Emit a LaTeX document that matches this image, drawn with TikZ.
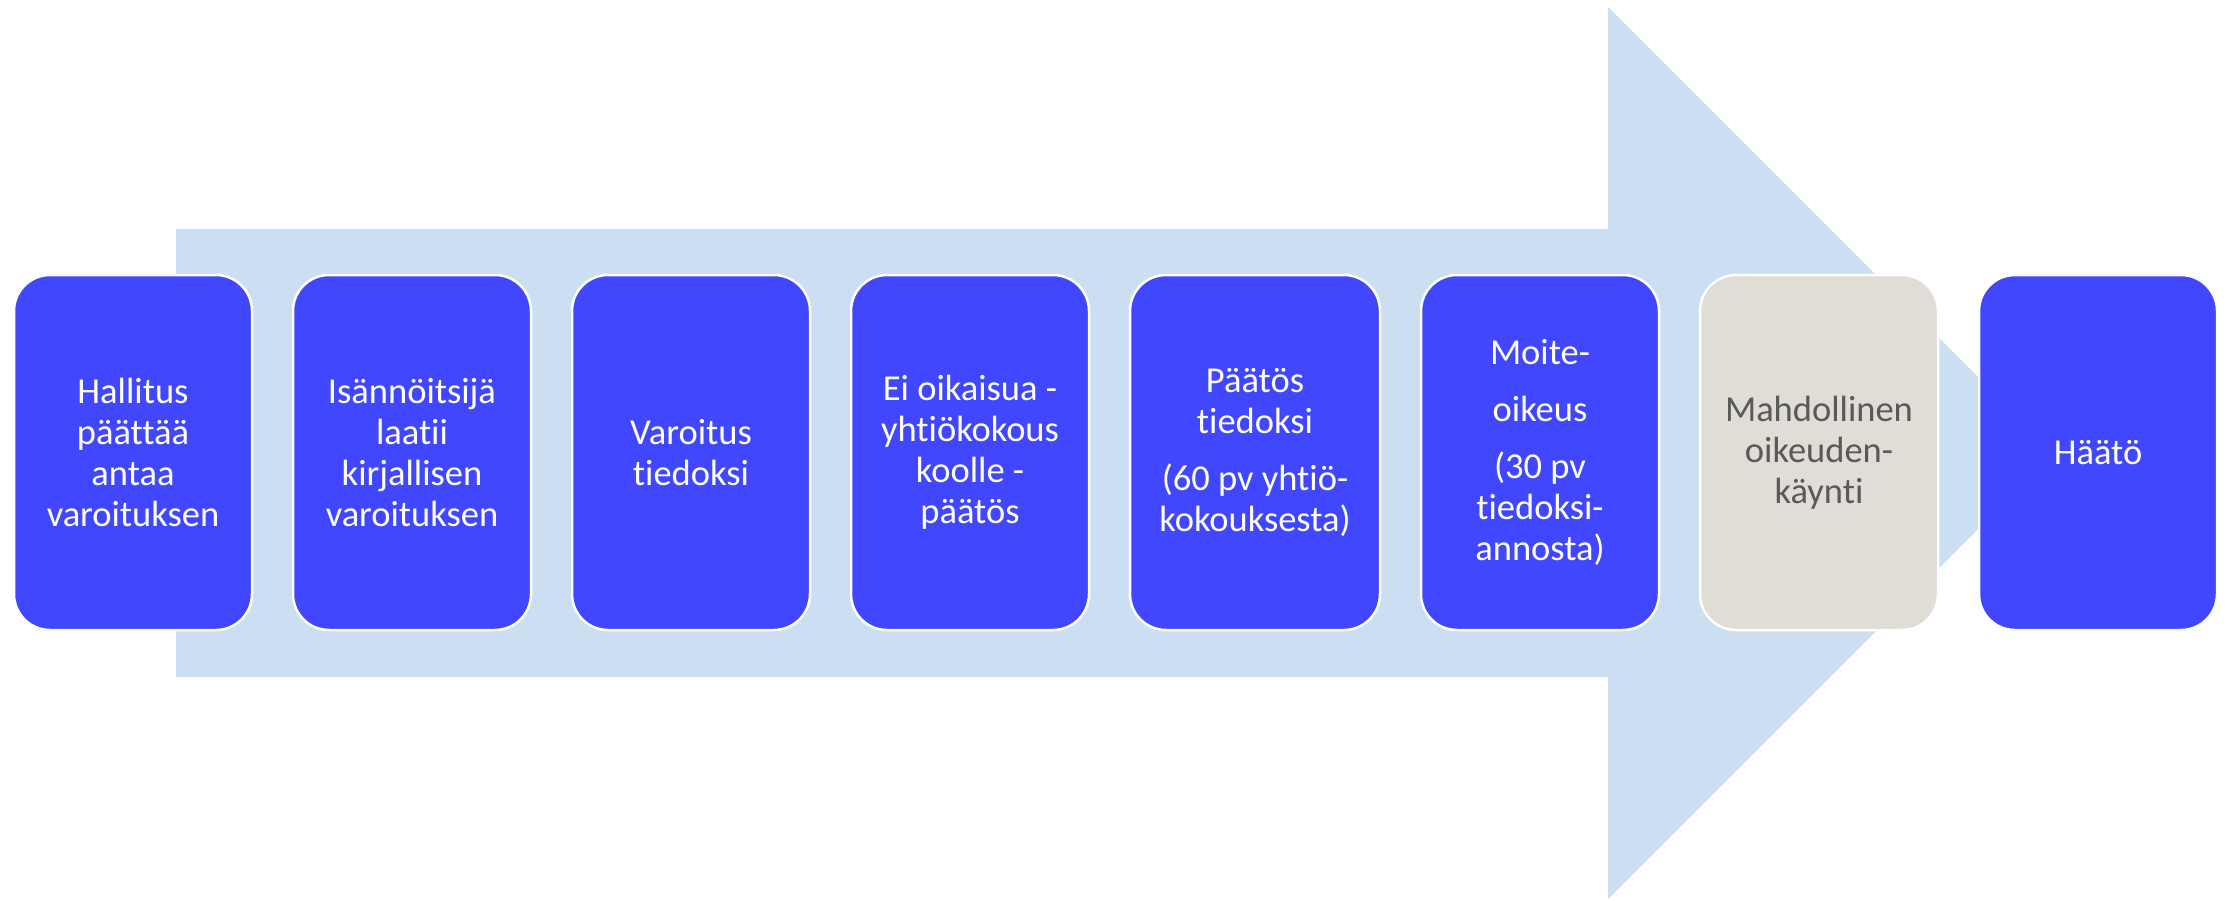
\documentclass[tikz,border=0pt]{standalone}
\usepackage{fontspec}
\setmainfont{Carlito}[Ligatures=NoCommon]
\usetikzlibrary{positioning}
\definecolor{stageblue}{RGB}{64,71,255}
\definecolor{flowblue}{RGB}{204,222,242}
\definecolor{stagegray}{RGB}{224,221,214}
\definecolor{graytext}{RGB}{89,89,89}
\tikzset{
  stage/.style={rectangle, rounded corners=36pt, fill=stageblue, draw=white, line width=2.5pt,
    minimum width=238pt, minimum height=355pt, inner sep=4pt, outer sep=0pt,
    align=center, text=white, font=\fontsize{36.5}{41}\selectfont},
  court/.style={stage, fill=stagegray, text=graytext},
  flow/.style={fill=flowblue}
}

\begin{document}
\begin{tikzpicture}[x=1pt, y=-1pt]
		\useasboundingbox (0,0) rectangle (2231,900);
		\fill[flow] (176,229) -- (1608,229) -- (1608,7) -- (2054,453) -- (1608,899) -- (1608,677) -- (176,677) -- cycle;
		\node[stage, anchor=west] (s_{1}) at (14,452.5) {Hallitus\\päättää\\antaa\\varoituksen};
		\node[stage] (s_{2}) [right=41pt of s_{1}] {Isännöitsijä\\laatii\\kirjallisen\\varoituksen};
		\node[stage] (s_{3}) [right=41pt of s_{2}] {Varoitus\\tiedoksi};
		\node[stage] (s_{4}) [right=41pt of s_{3}] {Ei oikaisua -\\yhtiökokous\\koolle -\\päätös};
		\node[stage, minimum width=250pt] (s_{5}) [right=41pt of s_{4}] {Päätös\\tiedoksi\\[16pt](60 pv yhtiö-\\kokouksesta)};
		\node[stage] (s_{6}) [right=41pt of s_{5}] {Moite-\\[16pt]oikeus\\[16pt](30 pv\\tiedoksi-\\annosta)};
		\node[court] (s_{7}) [right=41pt of s_{6}] {Mahdollinen\\oikeuden-\\käynti};
		\node[stage] (s_{8}) [right=41pt of s_{7}] {Häätö};
	\end{tikzpicture}
\end{document}
